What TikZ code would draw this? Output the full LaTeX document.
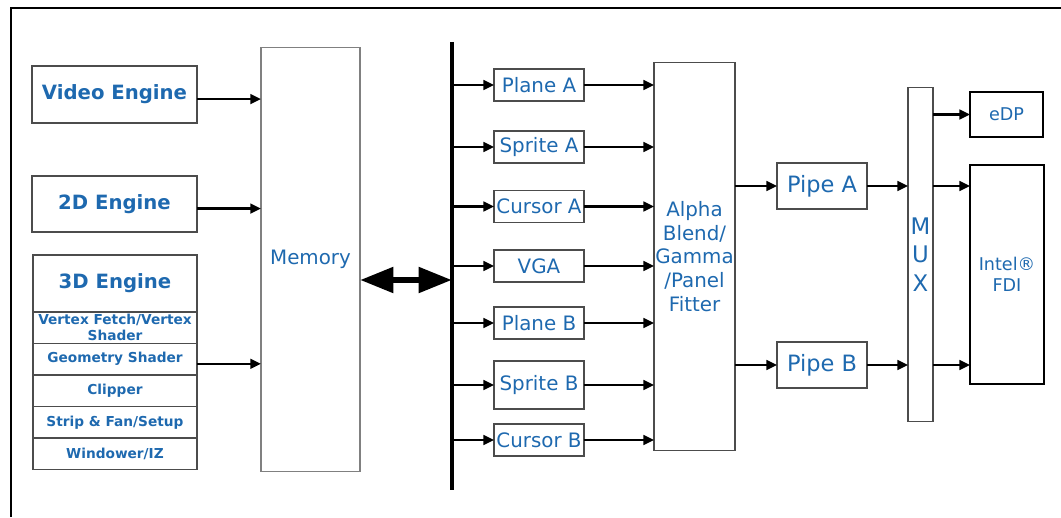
\documentclass[tikz,border=0pt]{standalone}
\usepackage{fontspec}
\setmainfont{DejaVu Sans}
\usetikzlibrary{arrows.meta,positioning}
\definecolor{intelblue}{RGB}{30,105,175}
\tikzset{
  box/.style={draw=black!70, line width=0.6pt, text=intelblue, inner sep=0pt, outer sep=0pt, align=center},
  engine/.style={box, minimum width=3.3cm, font=\bfseries\fontsize{11.2}{13}\selectfont},
  substage/.style={box, minimum width=3.28cm, minimum height=0.63cm, font=\bfseries\fontsize{7.8}{9}\selectfont},
  plane/.style={box, minimum width=1.8cm, minimum height=0.64cm, font=\fontsize{11.3}{13}\selectfont},
  pipe/.style={box, minimum width=1.8cm, minimum height=0.92cm, font=\fontsize{12.8}{15}\selectfont},
  port/.style={box, draw=black, line width=1.1pt, font=\fontsize{10}{12}\selectfont},
  link/.style={->, line width=1.3pt},
}

\begin{document}
\begin{tikzpicture}[x=0.02cm, y=-0.02cm, >={Triangle[length=6pt,width=5.5pt]}]
\useasboundingbox (0,0) rectangle (1061,517);
% Frame
\draw[line width=1.2pt] (11,517) -- (11,8) -- (1061,8);

% Engines
\node[engine, minimum height=1.14cm] (video) at (114.5,94.5) {Video Engine};
\node[engine, minimum height=1.12cm] (twod) at (114.5,204) {2D Engine};
\node[engine, minimum width=3.28cm, minimum height=1.14cm] (threed) at (115,283.5) {3D Engine};
\node[substage, below=0pt of threed] (fetch) {Vertex Fetch/Vertex\\Shader};
\node[substage, below=0pt of fetch] (geom) {Geometry Shader};
\node[substage, below=0pt of geom] (clip) {Clipper};
\node[substage, below=0pt of clip] (setup) {Strip \& Fan/Setup};
\node[substage, below=0pt of setup] (window) {Windower/IZ};

% Memory
\node[box, draw=black!50, minimum width=1.98cm, minimum height=8.5cm, font=\fontsize{11.3}{13}\selectfont] (mem) at (310.5,259.5) {Memory};
\foreach \src in {video,twod,geom}
  \draw[link] ([yshift=-2.6pt]\src.east) -- ([yshift=-2.6pt]\src.east -| mem.west);

% Bus
\coordinate (bustop) at (452,42);
\coordinate (busbot) at (452,490);
\coordinate (tap) at (452,280);
\draw[line width=2.3pt] (bustop) -- (busbot);
\draw[line width=3.6pt, {Triangle[length=19pt,width=14pt]}-{Triangle[length=19pt,width=14pt]}] (mem.east |- tap) -- (tap);

% Planes
\foreach \name/\txt/\y in {pa/Plane A/85, sa/Sprite A/147, ca/Cursor A/206.5, vga/VGA/266, pb/Plane B/323, cb/Cursor B/440}
  \node[plane] (\name) at (539,\y) {\txt};
\node[plane, minimum height=0.96cm] (sb) at (539,385) {Sprite B};

% Blending
\node[box, minimum width=1.62cm, minimum height=7.78cm, font=\fontsize{11.3}{13.6}\selectfont] (alpha) at (694.5,256.5) {Alpha\\Blend/\\Gamma\\/Panel\\Fitter};
\foreach \name in {pa,sa,ca,vga,pb,sb,cb} {
  \draw[link] (\name.west -| bustop) -- (\name.west);
  \draw[link] (\name.east) -- (\name.east -| alpha.west);
}

% Pipes and MUX
\node[pipe] (pipea) at (822,186) {Pipe A};
\node[pipe] (pipeb) at (822,365) {Pipe B};
\node[box, minimum width=0.5cm, minimum height=6.7cm, font=\fontsize{13}{16.4}\selectfont] (mux) at (920.5,254.5) {M\\U\\X};
\foreach \p in {pipea,pipeb} {
  \draw[link] (alpha.east |- \p) -- (\p.west);
  \draw[link] (\p.east) -- (\p.east -| mux.west);
}

% Outputs
\node[port, minimum width=1.46cm, minimum height=0.9cm] (edp) at (1006.5,114.5) {eDP};
\node[port, minimum width=1.48cm, minimum height=4.38cm] (fdi) at (1007,274.5) {Intel®\\FDI};
\draw[link] (edp.west -| mux.east) -- (edp.west);
\foreach \p in {pipea,pipeb}
  \draw[link] (mux.east |- \p) -- (fdi.west |- \p);
\end{tikzpicture}
\end{document}
